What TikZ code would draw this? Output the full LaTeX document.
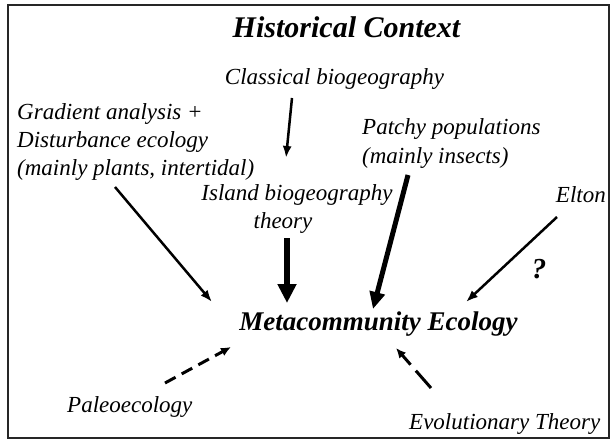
\documentclass[tikz,border=0pt]{standalone}
\usepackage{fontspec}
\setmainfont{Liberation Serif}
\usetikzlibrary{arrows.meta}
\begin{document}
\begin{tikzpicture}[x=1pt,y=-1pt,
  lbl/.style={inner sep=0pt,font=\fontsize{23}{27.5}\selectfont\itshape,align=left},
  thinarr/.style={line width=2.5pt,-{Latex[length=12pt,width=9pt]}},
  thickarr/.style={line width=6.5pt,-{Triangle[length=19pt,width=18pt]}},
  patcharr/.style={line width=5pt,-{Triangle[length=17pt,width=15pt]}},
  dasharr/.style={line width=3pt,-{Latex[length=10pt,width=9pt]}}]
\useasboundingbox (0,0) rectangle (610,441);
\draw[line width=2.2pt,black!85] (8,5) rectangle (609,438);
% texts
\node[inner sep=0pt,anchor=base,font=\fontsize{30}{36}\selectfont\bfseries\itshape] (title) at (346.5,38) {Historical Context};
\node[lbl,anchor=base] (cls) at (334.5,85) {Classical biogeography};
\node[lbl,anchor=base west] (grad) at (17,120) {Gradient analysis +};
\node[lbl,anchor=base west] (dist) at (17,147.5) {Disturbance ecology};
\node[lbl,anchor=base west] (plants) at (17,175) {(mainly plants, intertidal)};
\node[lbl,anchor=base west] (patchy) at (362,135) {Patchy populations};
\node[lbl,anchor=base west] (insects) at (362,163) {(mainly insects)};
\node[lbl,anchor=base] (island) at (297,200) {Island biogeography};
\node[lbl,anchor=base] (theory) at (283,228) {theory};
\node[lbl,anchor=base east] (elton) at (606,202) {Elton};
\node[inner sep=0pt,anchor=base,font=\fontsize{27}{32}\selectfont\bfseries\itshape] (meta) at (378.5,330) {Metacommunity Ecology};
\node[inner sep=0pt,anchor=base,font=\fontsize{29}{34}\selectfont\bfseries\itshape] (q) at (539,278) {?};
\node[lbl,anchor=base west] (paleo) at (67,412) {Paleoecology};
\node[lbl,anchor=base west] (evol) at (409,429) {Evolutionary Theory};
% connector end points
\coordinate (c1) at (292,98);   \coordinate (c2) at (286,158);
\coordinate (g1) at (115,187);  \coordinate (g2) at (212,302);
\coordinate (i1) at (287,238);  \coordinate (i2) at (287,303);
\coordinate (p1) at (408,175);  \coordinate (p2) at (373,309);
\coordinate (e1) at (557,217);  \coordinate (e2) at (466,302);
\coordinate (pa1) at (165,383); \coordinate (pa2) at (231,347);
\coordinate (ev1) at (431,388); \coordinate (ev2) at (396,348);
% connectors
\draw[thinarr] (c1) -- (c2);
\draw[thinarr] (g1) -- (g2);
\draw[thickarr] (i1) -- (i2);
\draw[patcharr] (p1) -- (p2);
\draw[thinarr] (e1) -- (e2);
\draw[dasharr,dash pattern=on 12pt off 7pt] (pa1) -- (pa2);
\draw[dasharr,dash pattern=on 23pt off 8pt] (ev1) -- (ev2);
\end{tikzpicture}
\end{document}
